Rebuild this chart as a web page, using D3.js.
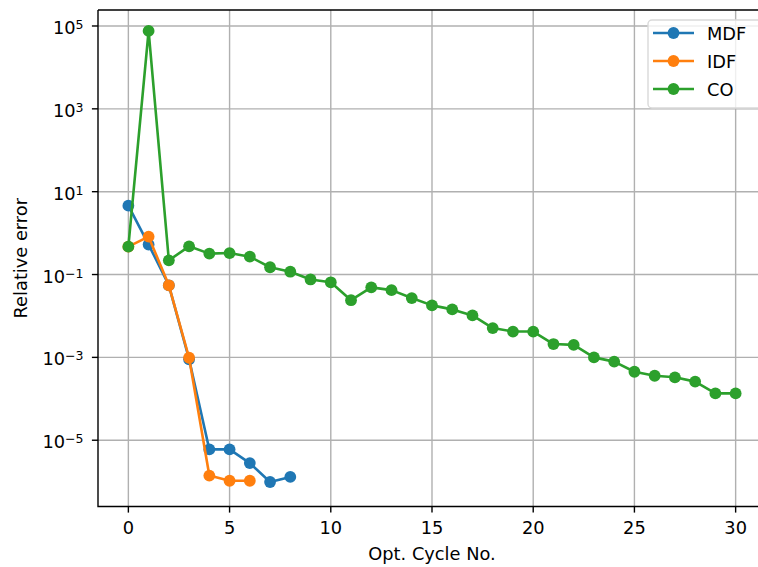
<!DOCTYPE html>
<html lang="en">
<head>
<meta charset="utf-8">
<title>relative error</title>
<script src="https://d3js.org/d3.v7.min.js"></script>
<style>
  body { margin: 0; background: #fff; }
  svg text { font-family: "DejaVu Sans", sans-serif; fill: #000; }
</style>
</head>
<body>
<div id="main"></div>
<script>
// values
var mdfCycles = [0, 1, 2, 3, 4, 5, 6, 7, 8];
var mdfError = [4.6, 0.53, 0.055, 0.0009, 6e-6, 6e-6, 2.8e-6, 9.8e-7, 1.3e-6];

var idfCycles = [0, 1, 2, 3, 4, 5, 6];
var idfError = [0.47, 0.82, 0.055, 0.00098, 1.4e-6, 1.05e-6, 1.05e-6];

var coCycles = [0, 1, 2, 3, 4, 5, 6, 7, 8, 9, 10, 11, 12, 13, 14, 15, 16, 17, 18, 19, 20,
                21, 22, 23, 24, 25, 26, 27, 28, 29, 30];
var coError = [0.47, 7.6e4, 0.22, 0.48, 0.32, 0.33, 0.27, 0.15, 0.117, 0.076, 0.065, 0.024,
               0.049, 0.042, 0.027, 0.018, 0.0144, 0.0103, 0.0051, 0.0042, 0.0042,
               0.0021, 0.002, 0.001, 0.00079, 0.00045, 0.00036, 0.00033, 0.00026, 0.000135, 0.000135];

var seriesNames = ["MDF", "IDF", "CO"];
var seriesColors = ["#1f77b4", "#ff7f0e", "#2ca02c"];
var xTicks = [0, 5, 10, 15, 20, 25, 30];
var yTickExps = [5, 3, 1, -1, -3, -5];

var width = 758, height = 567;
var pL = 98, pR = 766, pT = 10, pB = 506.5;
var fs = 17.8;   // 10pt at ~128 dpi
var lw = 2.6, mr = 5.9;

var svg = d3.select("#main").append("svg")
  .attr("width", width).attr("height", height);

var x = d3.scaleLinear().domain([-1.5, 31.5]).range([pL, pR]);
var y = d3.scaleLog().domain([Math.pow(10, -6.6), Math.pow(10, 5.386)]).range([pB, pT]);

// grid
svg.append("g").selectAll("line").data(xTicks).enter().append("line")
  .attr("x1", function(d) { return x(d); }).attr("x2", function(d) { return x(d); })
  .attr("y1", pT).attr("y2", pB)
  .attr("stroke", "#b0b0b0").attr("stroke-width", 1.4);
svg.append("g").selectAll("line").data(yTickExps).enter().append("line")
  .attr("x1", pL).attr("x2", pR)
  .attr("y1", function(d) { return y(Math.pow(10, d)); })
  .attr("y2", function(d) { return y(Math.pow(10, d)); })
  .attr("stroke", "#b0b0b0").attr("stroke-width", 1.4);

// series
var series = [
  { name: seriesNames[0], color: seriesColors[0], xs: mdfCycles, ys: mdfError },
  { name: seriesNames[1], color: seriesColors[1], xs: idfCycles, ys: idfError },
  { name: seriesNames[2], color: seriesColors[2], xs: coCycles, ys: coError }
];

var line = d3.line()
  .x(function(d) { return x(d[0]); })
  .y(function(d) { return y(d[1]); });

series.forEach(function(s) {
  var pts = s.xs.map(function(v, i) { return [v, s.ys[i]]; });
  var g = svg.append("g");
  g.append("path").datum(pts)
    .attr("d", line)
    .attr("fill", "none")
    .attr("stroke", s.color)
    .attr("stroke-width", lw)
    .attr("stroke-linejoin", "round");
  g.selectAll("circle").data(pts).enter().append("circle")
    .attr("cx", function(d) { return x(d[0]); })
    .attr("cy", function(d) { return y(d[1]); })
    .attr("r", mr)
    .attr("fill", s.color);
});

// spines
svg.append("path")
  .attr("d", "M" + pL + "," + pT + "H" + pR + "M" + pL + "," + pT + "V" + pB + "H" + pR)
  .attr("fill", "none").attr("stroke", "#000").attr("stroke-width", 1.4);

// x ticks
var xt = svg.append("g").selectAll("g").data(xTicks).enter().append("g")
  .attr("transform", function(d) { return "translate(" + x(d) + "," + pB + ")"; });
xt.append("line").attr("y2", 6.1).attr("stroke", "#000").attr("stroke-width", 1.4);
xt.append("text").attr("y", 27.5).attr("text-anchor", "middle")
  .attr("font-size", fs + "px").text(function(d) { return d; });

// y ticks
var yt = svg.append("g").selectAll("g").data(yTickExps).enter().append("g")
  .attr("transform", function(d) { return "translate(" + pL + "," + y(Math.pow(10, d)) + ")"; });
yt.append("line").attr("x2", -6.1).attr("stroke", "#000").attr("stroke-width", 1.4);
var yl = yt.append("text").attr("x", -14.5).attr("y", 8).attr("text-anchor", "end")
  .attr("font-size", fs + "px");
yl.append("tspan").text("10");
yl.append("tspan").attr("dy", -5).attr("font-size", "12.5px")
  .text(function(d) { return d < 0 ? "\u2212" + (-d) : d; });

// axis labels
svg.append("text").attr("x", (pL + pR) / 2).attr("y", 560)
  .attr("text-anchor", "middle").attr("font-size", fs + "px").text("Opt. Cycle No.");
svg.append("text").attr("transform", "translate(27," + (pT + pB) / 2 + ") rotate(-90)")
  .attr("text-anchor", "middle").attr("font-size", fs + "px").text("Relative error");

// legend
var lg = svg.append("g").attr("transform", "translate(648,20)");
lg.append("rect").attr("width", 120).attr("height", 88).attr("rx", 4)
  .attr("fill", "#fff").attr("fill-opacity", 0.8)
  .attr("stroke", "#d9d9d9").attr("stroke-width", 1.4);
var items = lg.selectAll("g.item").data(series).enter().append("g").attr("class", "item")
  .attr("transform", function(d, i) { return "translate(0," + (13 + i * 28) + ")"; });
items.append("line").attr("x1", 5).attr("x2", 46)
  .attr("stroke", function(d) { return d.color; }).attr("stroke-width", lw);
items.append("circle").attr("cx", 25.5).attr("r", mr)
  .attr("fill", function(d) { return d.color; });
items.append("text").attr("x", 59).attr("y", 6.5).attr("font-size", fs + "px")
  .text(function(d) { return d.name; });
</script>
</body>
</html>
